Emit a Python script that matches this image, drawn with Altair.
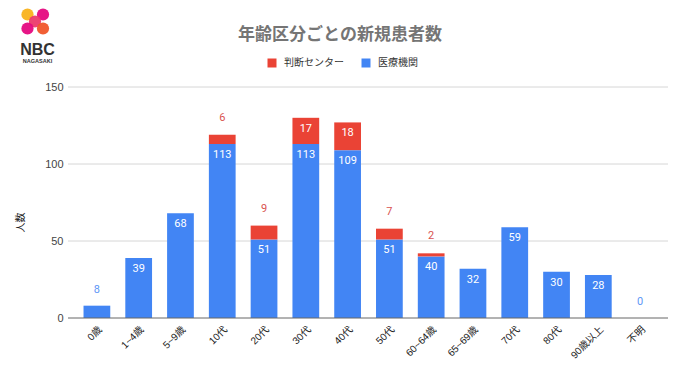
import altair as alt
import pandas as pd

categories = ["0歳", "1~4歳", "5~9歳", "10代", "20代", "30代", "40代", "50代",
              "60~64歳", "65~69歳", "70代", "80代", "90歳以上", "不明"]
iryo = [8, 39, 68, 113, 51, 113, 109, 51, 40, 32, 59, 30, 28, 0]      # 医療機関
handan = [0, 0, 0, 6, 9, 17, 18, 7, 2, 0, 0, 0, 0, 0]                # 判断センター
series_names = ["判断センター", "医療機関"]
series_colors = ["#EA4335", "#4285F4"]
y_ticks = [0, 50, 100, 150]

JP = "Noto Sans CJK JP"
NUM = "Roboto, Noto Sans CJK JP"
LAB = "Liberation Sans, Noto Sans CJK JP"

rows = []
for c, b, r in zip(categories, iryo, handan):
    rows.append({"cat": c, "series": "医療機関", "value": b, "ord": 0})
    rows.append({"cat": c, "series": "判断センター", "value": r, "ord": 1})
bars_df = pd.DataFrame(rows)

in_blue = pd.DataFrame([{"cat": c, "y": b, "t": str(b)} for c, b in zip(categories, iryo) if b >= 15])
out_blue = pd.DataFrame([{"cat": c, "y": b, "t": str(b)} for c, b, r in zip(categories, iryo, handan) if b < 15 and r == 0])
in_red = pd.DataFrame([{"cat": c, "y": b + r, "t": str(r)} for c, b, r in zip(categories, iryo, handan) if r >= 10])
out_red = pd.DataFrame([{"cat": c, "y": b + r, "t": str(r)} for c, b, r in zip(categories, iryo, handan) if 0 < r < 10])

xscale = alt.Scale(domain=categories, paddingInner=0.36, paddingOuter=0.18)
yscale = alt.Scale(domain=[0, 150], nice=False)

xax = alt.Axis(title=None, labelAngle=315, labelFont=LAB, labelFontSize=10, labelColor="#222",
               ticks=False, domain=False, grid=False, labelPadding=6)
yax = alt.Axis(title="人数", values=y_ticks, grid=False, domain=False, ticks=False,
               labelFont=LAB, labelFontSize=11, labelColor="#444", labelPadding=13,
               titleFont=JP, titleFontSize=10, titleFontWeight="normal", titleColor="#222",
               titleX=-51, titleY=135, titleAngle=270)

grid = alt.Chart(pd.DataFrame({"v": y_ticks[1:]})).mark_rule(color="#d6d6d6", strokeWidth=1).encode(
    y=alt.Y("v:Q", scale=yscale), x=alt.value(-8), x2=alt.value(592))

bars = alt.Chart(bars_df).mark_bar().encode(
    x=alt.X("cat:N", scale=xscale, axis=xax, sort=categories),
    y=alt.Y("value:Q", scale=yscale, axis=yax, stack="zero"),
    color=alt.Color("series:N", scale=alt.Scale(domain=series_names, range=series_colors),
                    legend=alt.Legend(title=None)),
    order=alt.Order("ord:Q"),
)

baseline = alt.Chart(pd.DataFrame({"v": [0]})).mark_rule(color="#666", strokeWidth=1).encode(
    y=alt.Y("v:Q", scale=yscale), x=alt.value(-8), x2=alt.value(592))


def lab(df, dy, color):
    return alt.Chart(df).mark_text(dy=dy, color=color, font=NUM, fontSize=11, baseline="middle").encode(
        x=alt.X("cat:N", scale=xscale, sort=categories),
        y=alt.Y("y:Q", scale=yscale),
        text="t:N")


labels = [lab(in_blue, 11, "white"), lab(out_blue, -16, "#5e97f6"),
          lab(in_red, 11, "white"), lab(out_red, -17, "#d9534f")]

one = alt.Data(values=[{"a": 1}])
title = alt.Chart(one).mark_text(text="年齢区分ごとの新規患者数", font=JP, fontSize=17, fontWeight="bold",
                                 color="#757575", baseline="middle", align="center").encode(
    x=alt.value(264), y=alt.value(-52))

logo_dots = []
for (px, py, col) in [(-48.5, -72.5, "#F9B21B"), (-33, -72.5, "#E5097F"),
                      (-41, -65.5, "#EC3A6B"), (-48.5, -58.5, "#E5097F"), (-33, -58.5, "#F0562A")]:
    logo_dots.append(alt.Chart(one).mark_point(filled=True, shape="circle", size=150, color=col, opacity=0.95)
                     .encode(x=alt.value(px), y=alt.value(py)))
nbc = alt.Chart(one).mark_text(text="NBC", font="Liberation Sans", fontSize=16, fontWeight="bold",
                               color="#333", align="center", baseline="alphabetic").encode(
    x=alt.value(-38.5), y=alt.value(-32))
naga = alt.Chart(one).mark_text(text="NAGASAKI", font="Liberation Sans", fontSize=5.5, fontWeight="bold",
                                color="#333", align="center", baseline="alphabetic").encode(
    x=alt.value(-38.5), y=alt.value(-24))

chart = alt.layer(grid, bars, baseline, *labels, title, *logo_dots, nbc, naga).properties(
    width=585, height=231,
    padding={"left": 68, "top": 79, "right": 11, "bottom": 56},
    autosize=alt.AutoSizeParams(type="none"),
).configure_view(stroke=None).configure_legend(
    orient="none", legendX=191, legendY=-29, direction="horizontal", symbolType="square",
    symbolSize=81, symbolStrokeWidth=0, labelFont=JP, labelFontSize=10, labelColor="#333",
    columnPadding=17, labelOffset=7, padding=0,
)

chart.save("out.html", embed_options={"renderer": "svg", "actions": False})
